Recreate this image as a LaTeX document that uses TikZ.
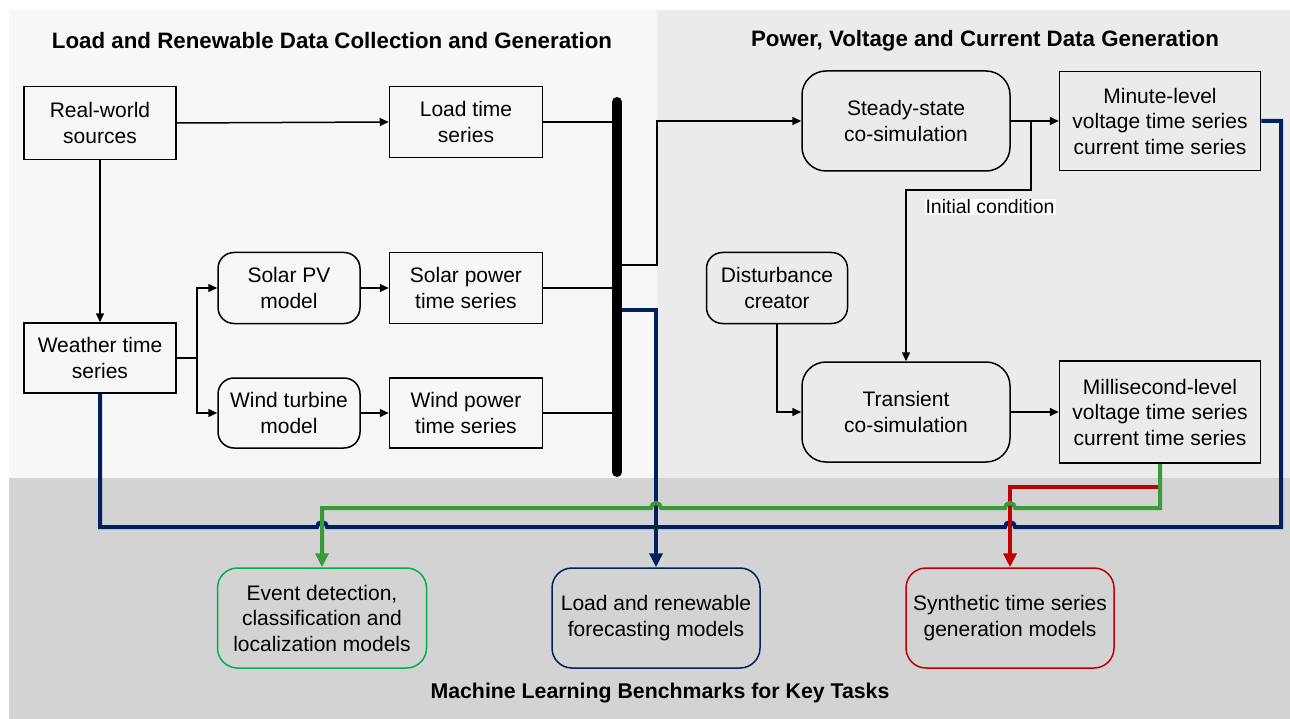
\documentclass[tikz,border=0pt]{standalone}
\usepackage{fontspec}
\setmainfont{Liberation Sans}
\usetikzlibrary{arrows.meta}
\definecolor{leftbg}{HTML}{F7F7F7}
\definecolor{rightbg}{HTML}{EBEBEB}
\definecolor{bottombg}{HTML}{D3D3D3}
\definecolor{navyline}{HTML}{002060}
\definecolor{greenline}{HTML}{3A9A3A}
\definecolor{greenbox}{HTML}{00B050}
\definecolor{redline}{HTML}{C00000}
\tikzset{
    txt/.style={font=\fontsize{21}{25.5}\selectfont},
    heading/.style={font=\fontsize{22.3}{26}\selectfont\bfseries},
    sz/.style 2 args={minimum width=#1pt, minimum height=#2pt},
    box/.style={draw, line width=1.5pt, align=center, inner sep=0pt, txt},
    rbox/.style={box, rounded corners=16pt},
    bigbox/.style={box, rounded corners=24pt},
    link/.style={line width=1.5pt},
    arr/.style={link, -{Triangle[length=9pt, width=8pt]}},
    busbar/.style={line width=10pt, line cap=round},
    thickline/.style={line width=4pt},
    thickarr/.style={thickline, -{Triangle[length=14pt, width=13pt]}}
}
\begin{document}
\begin{tikzpicture}[x=1pt, y=-1pt]
    \pgfmathsetmacro{\yn}{527};
    \pgfmathsetmacro{\yg}{508};
    \pgfmathsetmacro{\yr}{487};
    \pgfmathsetmacro{\h}{5};
    \useasboundingbox (0,0) rectangle (1290,719);
    \fill [leftbg] (9,10) rectangle (657,478);
    \fill [rightbg] (657,10) rectangle (1290,478);
    \fill [bottombg] (9,478) rectangle (1290,719);
    \node [heading] (ttlleft) at (332,41) {Load and Renewable Data Collection and Generation};
    \node [heading] (ttlright) at (985,41) {Power, Voltage and Current Data Generation};
    \node [heading, font=\fontsize{21.3}{26}\selectfont\bfseries] (ttlbottom) at (660,693) {Machine Learning Benchmarks for Key Tasks};
    \node [box, sz={152}{73}] (rws) at (100,123) {Real-world\\sources};
    \node [box, sz={153}{71}] (load) at (466,122) {Load time\\series};
    \node [rbox, sz={142}{71}] (solarpv) at (289,288) {Solar PV\\model};
    \node [box, sz={153}{71}] (solarts) at (466,288) {Solar power\\time series};
    \node [box, sz={152}{70}] (weather) at (100,358) {Weather time\\series};
    \node [rbox, sz={142}{70}] (windturb) at (289,413) {Wind turbine\\model};
    \node [box, sz={153}{70}] (windts) at (466,413) {Wind power\\time series};
    \node [bigbox, sz={208}{100}] (steady) at (906,121) {Steady-state\\co-simulation};
    \node [box, sz={201}{99}] (minute) at (1160,121) {Minute-level\\voltage time series\\current time series};
    \node [rbox, sz={141}{71}] (dist) at (777,288) {Disturbance\\creator};
    \node [bigbox, sz={208}{100}] (trans) at (906,412) {Transient\\co-simulation};
    \node [box, sz={201}{102}] (milli) at (1160,412) {Millisecond-level\\voltage time series\\current time series};
    \node [bigbox, draw=greenbox, sz={209}{100}, rounded corners=20pt] (event) at (322,618) {Event detection,\\classification and\\localization models};
    \node [bigbox, draw=navyline, sz={208}{100}, rounded corners=20pt] (forecast) at (656,618) {Load and renewable\\forecasting models};
    \node [bigbox, draw=redline, sz={208}{100}, rounded corners=20pt] (synth) at (1010,618) {Synthetic time series\\generation models};
    \coordinate (bustop) at (617,102);
    \coordinate (busbot) at (617,472);
    \coordinate (busout) at (617,265);
    \coordinate (busnavy) at (617,310);
    \coordinate (redsrc) at (milli.south |- 0,\yr);
    \draw [arr] (rws.east) -- (load.west);
    \draw [arr] (rws.south) -- (weather.north);
    \draw [arr] (weather.east) -- ++(20,0) |- (solarpv.west);
    \draw [arr] (weather.east) -- ++(20,0) |- (windturb.west);
    \draw [arr] (solarpv.east) -- (solarts.west);
    \draw [arr] (windturb.east) -- (windts.west);
    \draw [link] (load.east) -- (load.east -| bustop);
    \draw [link] (solarts.east) -- (solarts.east -| bustop);
    \draw [link] (windts.east) -- (windts.east -| bustop);
    \draw [arr] (busout) -- ++(40,0) |- (steady.west);
    \draw [arr] (steady.east) -- (minute.west);
    \draw [arr] (steady.east) ++(20,0) -- ++(0,69) -| (trans.north);
    \node [txt, fill=white, inner sep=1pt, font=\fontsize{19.5}{22}\selectfont] (init) at (990,207) {Initial condition};
    \draw [arr] (dist.south) |- (trans.west);
    \draw [arr] (trans.east) -- (milli.west);
    \draw [thickline, navyline] (weather.south) |- (317,\yn) arc [start angle=180, end angle=360, radius=\h]
        -- (1005,\yn) arc [start angle=180, end angle=360, radius=\h] -- (1281,\yn) |- (minute.east);
    \draw [thickarr, navyline] (busnavy) -| (forecast.north);
    \draw [thickarr, redline] (redsrc) -| (synth.north);
    \draw [thickarr, greenline] (milli.south) |- (1015,\yg) arc [start angle=0, end angle=-180, radius=\h]
        -- (661,\yg) arc [start angle=0, end angle=-180, radius=\h] -| (event.north);
    \draw [busbar] (bustop) -- (busbot);
\end{tikzpicture}
\end{document}
